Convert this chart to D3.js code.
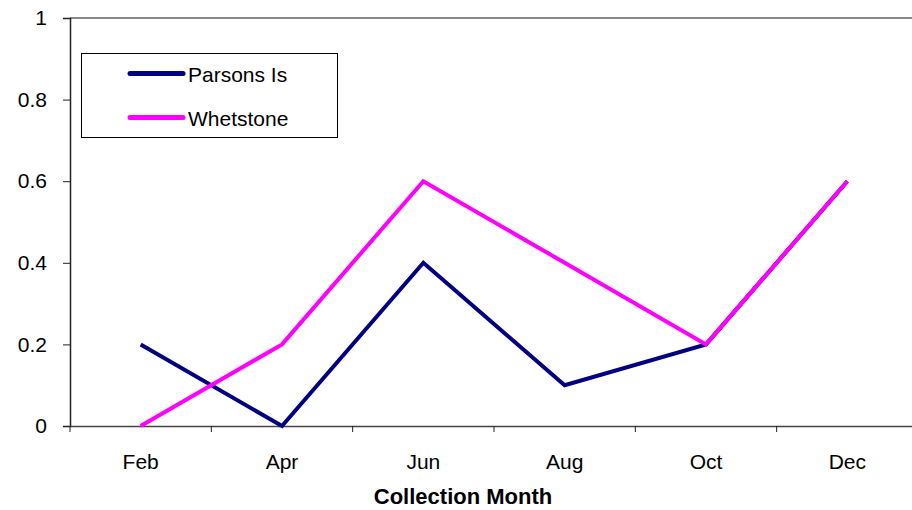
<!DOCTYPE html>
<html>
<head>
<meta charset="utf-8">
<script src="https://cdn.jsdelivr.net/npm/d3@7"></script>
<style>
  html, body { margin: 0; padding: 0; background: #fff; }
  svg { display: block; font-family: "Liberation Sans", Arial, sans-serif; }
</style>
</head>
<body>
<svg id="chart" width="912" height="510"></svg>
<script>
const months = ["Feb", "Apr", "Jun", "Aug", "Oct", "Dec"];
const parsons = [0.2, 0, 0.4, 0.1, 0.2, 0.6];
const whetstone = [0, 0.2, 0.6, 0.4, 0.2, 0.6];
const yTicks = [0, 0.2, 0.4, 0.6, 0.8, 1];
const yTickLabels = ["0", "0.2", "0.4", "0.6", "0.8", "1"];

const series = [
  { name: "Parsons Is", values: parsons, color: "#000080" },
  { name: "Whetstone", values: whetstone, color: "#ff00ff" }
];

const svg = d3.select("#chart");
const plot = { left: 70, right: 918, top: 18, bottom: 426 };

const x = d3.scaleBand().domain(months).range([plot.left, plot.right]);
const y = d3.scaleLinear().domain([0, 1]).range([plot.bottom, plot.top]);

// top border of the plot area
svg.append("line")
  .attr("x1", plot.left).attr("x2", plot.right)
  .attr("y1", plot.top).attr("y2", plot.top)
  .attr("stroke", "#888").attr("stroke-width", 2);

// y axis
const yAxis = svg.append("g")
  .attr("transform", `translate(${plot.left},0)`)
  .call(d3.axisLeft(y).tickValues(yTicks)
    .tickFormat((d, i) => yTickLabels[i]).tickSize(7).tickPadding(16));
yAxis.select(".domain").attr("stroke", "#222").attr("stroke-width", 1.5);
yAxis.selectAll(".tick line").attr("stroke", "#222");
yAxis.selectAll("text").attr("font-size", 21).attr("fill", "#000")
  .attr("font-family", "Liberation Sans, Arial, sans-serif");

// x axis with ticks on category boundaries
const xAxis = svg.append("g")
  .attr("transform", `translate(0,${plot.bottom})`)
  .call(d3.axisBottom(x).tickSize(0).tickPadding(28));
xAxis.select(".domain").attr("stroke", "#444").attr("stroke-width", 1.5);
xAxis.selectAll("text").attr("font-size", 21).attr("fill", "#000")
  .attr("font-family", "Liberation Sans, Arial, sans-serif");
xAxis.selectAll(".boundary")
  .data(months.map(m => x(m)))
  .enter().append("line")
  .attr("x1", d => d).attr("x2", d => d)
  .attr("y1", 0).attr("y2", 6)
  .attr("stroke", "#222");

// x axis title
svg.append("text")
  .attr("x", 463).attr("y", 504)
  .attr("text-anchor", "middle")
  .attr("font-size", 22).attr("font-weight", "bold")
  .text("Collection Month");

// series lines
const line = d3.line()
  .x((d, i) => x(months[i]) + x.bandwidth() / 2)
  .y(d => y(d));

svg.selectAll(".series")
  .data(series)
  .enter().append("path")
  .attr("fill", "none")
  .attr("stroke", d => d.color)
  .attr("stroke-width", 4)
  .attr("stroke-linejoin", "miter")
  .attr("d", d => line(d.values));

// legend
const legend = svg.append("g");
legend.append("rect")
  .attr("x", 81.5).attr("y", 53.5).attr("width", 256).attr("height", 84)
  .attr("fill", "#fff").attr("stroke", "#000").attr("stroke-width", 1);
series.forEach((s, i) => {
  const ly = 73.5 + i * 44;
  legend.append("line")
    .attr("x1", 130).attr("x2", 183).attr("y1", ly).attr("y2", ly)
    .attr("stroke", s.color).attr("stroke-width", 5).attr("stroke-linecap", "round");
  legend.append("text")
    .attr("x", 188).attr("y", ly + 8)
    .attr("font-size", 21)
    .text(s.name);
});
</script>
</body>
</html>
